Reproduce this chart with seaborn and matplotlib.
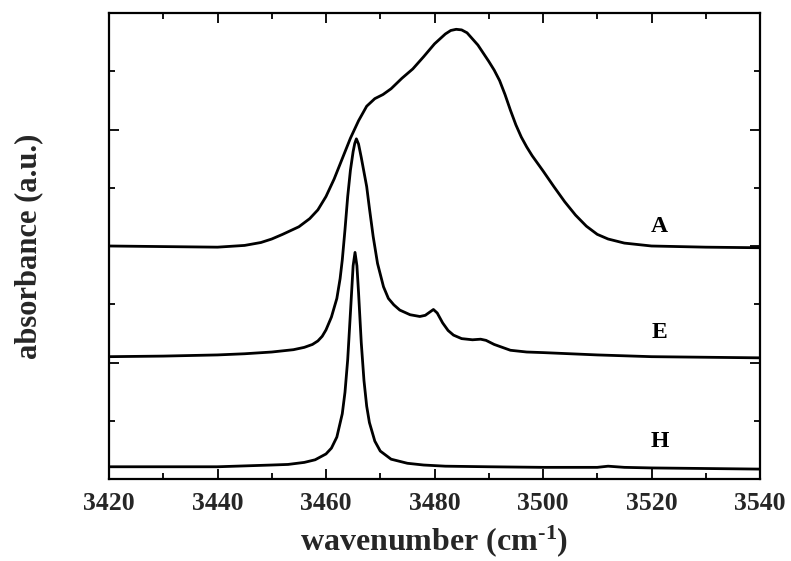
import matplotlib
matplotlib.use("Agg")
import matplotlib.pyplot as plt
import seaborn as sns
import pandas as pd
from matplotlib.ticker import MultipleLocator, NullFormatter

# ---- data ----
a_x = [3420, 3430, 3440, 3445, 3448, 3450, 3452, 3455, 3457, 3458.5, 3460, 3461.5,
       3463, 3464.5, 3466, 3467.5, 3469, 3470.5, 3472, 3474, 3476, 3478, 3480, 3482,
       3483, 3484, 3485, 3486, 3488, 3490, 3491, 3492, 3493, 3494, 3495, 3496, 3497,
       3498, 3499, 3500, 3502, 3504, 3506, 3508, 3510, 3512, 3515, 3520, 3530, 3540]
a_y = [4.00, 3.99, 3.98, 4.01, 4.06, 4.12, 4.20, 4.33, 4.47, 4.62, 4.85, 5.15,
       5.50, 5.85, 6.15, 6.40, 6.53, 6.60, 6.70, 6.88, 7.04, 7.25, 7.47, 7.64,
       7.70, 7.72, 7.71, 7.66, 7.45, 7.17, 7.02, 6.84, 6.60, 6.33, 6.08, 5.87, 5.70,
       5.55, 5.42, 5.29, 5.02, 4.76, 4.53, 4.34, 4.20, 4.12, 4.05, 4.00, 3.98, 3.97]

e_x = [3420, 3430, 3440, 3445, 3450, 3452, 3454, 3456, 3457.5, 3458.5, 3459.3, 3460,
       3461, 3462, 3462.6, 3463, 3463.5, 3464, 3464.5, 3465, 3465.3, 3465.6, 3466,
       3466.5, 3467, 3467.5, 3468, 3468.7, 3469.5, 3470.6, 3471.5, 3472.5, 3473.6,
       3475.5, 3477.3, 3478.3, 3479.2, 3479.8, 3480.5, 3481.5, 3482.5, 3483.5, 3485,
       3487, 3488.5, 3489.5, 3491, 3492.5, 3494, 3497, 3500, 3505, 3510, 3520, 3530,
       3540]
e_y = [2.10, 2.11, 2.13, 2.15, 2.18, 2.20, 2.22, 2.26, 2.31, 2.37, 2.45, 2.56,
       2.78, 3.10, 3.44, 3.76, 4.28, 4.85, 5.30, 5.62, 5.76, 5.84, 5.75,
       5.52, 5.27, 5.02, 4.65, 4.16, 3.70, 3.30, 3.10, 2.99, 2.90,
       2.82, 2.79, 2.81, 2.87, 2.91, 2.85, 2.68, 2.55, 2.47, 2.41,
       2.39, 2.40, 2.38, 2.31, 2.26, 2.21, 2.18, 2.17, 2.15, 2.13, 2.10, 2.09,
       2.08]

h_x = [3420, 3430, 3440, 3445, 3450, 3453, 3456, 3458, 3460, 3461, 3462, 3463,
       3463.5, 3464, 3464.5, 3465, 3465.35, 3465.7, 3466, 3466.5, 3467, 3467.5,
       3468, 3469, 3470, 3472, 3475, 3478, 3482, 3490, 3500, 3510, 3512, 3515,
       3520, 3530, 3540]
h_y = [0.21, 0.21, 0.21, 0.225, 0.24, 0.25, 0.285, 0.33, 0.43, 0.53, 0.72, 1.12,
       1.49, 2.05, 2.85, 3.66, 3.89, 3.66, 3.20, 2.34, 1.69, 1.25,
       0.97, 0.65, 0.48, 0.34, 0.27, 0.24, 0.22, 0.21, 0.20, 0.20, 0.22, 0.20,
       0.19, 0.18, 0.17]

labels = ["A", "E", "H"]
label_x = [3521.5, 3521.5, 3521.5]
label_y = [4.33, 2.51, 0.64]

x_ticks = [3420, 3440, 3460, 3480, 3500, 3520, 3540]

# ---- build table ----
frames = []
for name, xs, ys in [("A", a_x, a_y), ("E", e_x, e_y), ("H", h_x, h_y)]:
    frames.append(pd.DataFrame({"wavenumber": xs, "absorbance": ys, "sample": name}))
df = pd.concat(frames, ignore_index=True)

sns.set_theme(style="ticks")
plt.rcParams["font.family"] = ["Liberation Serif", "DejaVu Serif"]
plt.rcParams["mathtext.fontset"] = "custom"
plt.rcParams["mathtext.rm"] = "Liberation Serif:bold"
plt.rcParams["mathtext.it"] = "Liberation Serif:bold"
plt.rcParams["mathtext.bf"] = "Liberation Serif:bold"

fig = plt.figure(figsize=(7.91, 5.61), dpi=100)
ax = fig.add_axes([109 / 791, 1 - 479 / 561, (760 - 109) / 791, (479 - 13) / 561])

sns.lineplot(data=df, x="wavenumber", y="absorbance", units="sample", estimator=None,
             color="black", linewidth=2.0, sort=False, ax=ax, legend=False)

for lab, lx, ly in zip(labels, label_x, label_y):
    ax.text(lx, ly, lab, ha="center", va="center", fontsize=17, fontweight="bold",
            color="black")

ax.set_xlim(3420, 3540)
ax.set_ylim(0, 8)
ax.set_xticks(x_ticks)
ax.set_xticklabels([str(t) for t in x_ticks])
ax.xaxis.set_minor_locator(MultipleLocator(10))
ax.yaxis.set_major_locator(MultipleLocator(2))
ax.yaxis.set_minor_locator(MultipleLocator(1))
ax.yaxis.set_major_formatter(NullFormatter())

ax.tick_params(which="both", direction="in", top=True, right=True, color="black",
               width=1.3)
ax.tick_params(which="major", length=7)
ax.tick_params(which="minor", length=4)
ax.tick_params(axis="x", which="major", labelsize=18.5, pad=9)
for lbl in ax.get_xticklabels():
    lbl.set_fontweight("bold")

for sp in ax.spines.values():
    sp.set_linewidth(1.6)
    sp.set_color("black")

ax.set_xlabel(r"wavenumber (cm$^{\text{-1}}$)", fontsize=23, fontweight="bold",
              labelpad=6)
ax.set_ylabel("absorbance (a.u.)", fontsize=22, fontweight="bold", labelpad=44)

fig.savefig("out.png", dpi=100)
